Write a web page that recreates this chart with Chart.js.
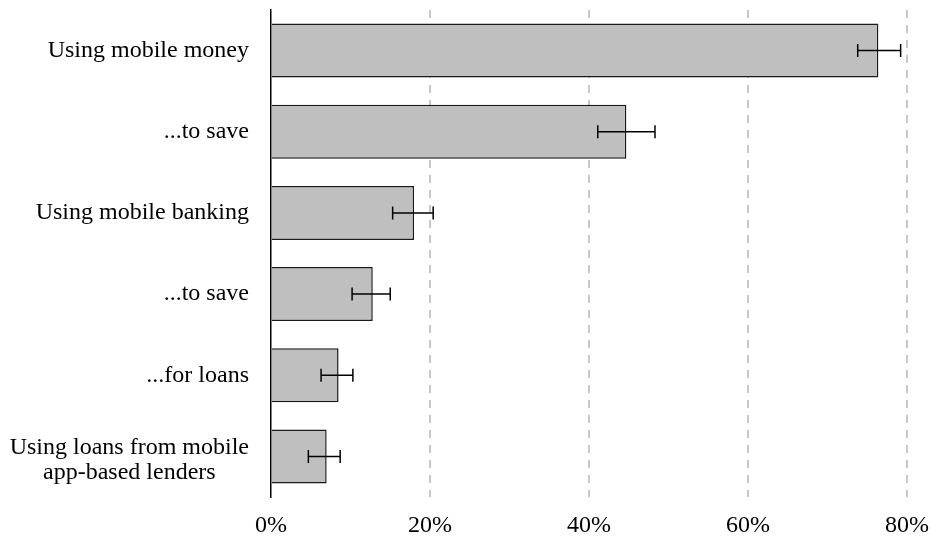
<!DOCTYPE html>
<html>
<head>
<meta charset="utf-8">
<script src="https://cdn.jsdelivr.net/npm/chart.js@4.4.1/dist/chart.umd.min.js"></script>
<style>
  body { margin: 0; background: #fff; }
  canvas { display: block; }
</style>
</head>
<body>
<canvas id="grafica" width="932" height="538"></canvas>
<script>
const categorias = [
    ["Using mobile money"],
    ["...to save"],
    ["Using mobile banking"],
    ["...to save"],
    ["...for loans"],
    ["Using loans from mobile", "app-based lenders"]
];
const valores = [76.4, 44.7, 18.0, 12.8, 8.5, 7.0];
const errorBajo = [73.8, 41.1, 15.3, 10.2, 6.3, 4.7];
const errorAlto = [79.2, 48.3, 20.4, 15.0, 10.3, 8.7];
const ticksX = [0, 20, 40, 60, 80];

const fuente = "Liberation Serif, Times New Roman, serif";

// barras de error dibujadas sobre las barras
const pluginErrores = {
    id: "errores",
    afterDatasetsDraw(chart) {
        const ctx = chart.ctx;
        const escalaX = chart.scales.x;
        const meta = chart.getDatasetMeta(0);
        ctx.save();
        ctx.strokeStyle = "#000";
        ctx.lineWidth = 1.5;
        meta.data.forEach((barra, i) => {
            let y = barra.y;
            let x1 = escalaX.getPixelForValue(errorBajo[i]);
            let x2 = escalaX.getPixelForValue(errorAlto[i]);
            ctx.beginPath();
            ctx.moveTo(x1, y);
            ctx.lineTo(x2, y);
            ctx.moveTo(x1, y - 6.5);
            ctx.lineTo(x1, y + 6.5);
            ctx.moveTo(x2, y - 6.5);
            ctx.lineTo(x2, y + 6.5);
            ctx.stroke();
        });
        ctx.restore();
    }
};

// etiquetas de categorias: alineadas a la derecha, lineas centradas entre si
const pluginEtiquetas = {
    id: "etiquetas",
    afterDraw(chart) {
        const ctx = chart.ctx;
        const escalaY = chart.scales.y;
        const derecha = chart.chartArea.left - 22;
        const altoLinea = 25;
        ctx.save();
        ctx.font = "24px " + fuente;
        ctx.fillStyle = "#000";
        ctx.textBaseline = "middle";
        ctx.textAlign = "center";
        categorias.forEach((lineas, i) => {
            let yc = escalaY.getPixelForValue(i);
            let ancho = Math.max(...lineas.map((l) => ctx.measureText(l).width));
            let xc = derecha - ancho / 2;
            let y0 = yc - (lineas.length - 1) * altoLinea / 2;
            if (lineas.length > 1) {
                y0 += 4;
            }
            lineas.forEach((l, j) => {
                ctx.fillText(l, xc, y0 + j * altoLinea);
            });
        });
        ctx.restore();
    }
};

const contexto = document.getElementById("grafica").getContext("2d");
const grafico = new Chart(contexto, {
    type: "bar",
    data: {
        labels: categorias.map((c) => c.join(" ")),
        datasets: [{
            data: valores,
            backgroundColor: "#bfbfbf",
            borderColor: "#1a1a1a",
            borderWidth: 1.5,
            barPercentage: 0.665,
            categoryPercentage: 1
        }]
    },
    options: {
        indexAxis: "y",
        responsive: false,
        animation: false,
        layout: { padding: { top: 10, right: 25, left: 0, bottom: 0 } },
        plugins: {
            legend: { display: false },
            tooltip: { enabled: false }
        },
        scales: {
            x: {
                min: 0,
                max: 80,
                afterBuildTicks: (escala) => {
                    escala.ticks = ticksX.map((v) => ({ value: v }));
                },
                afterFit: (escala) => {
                    escala.height = 41;
                    escala.paddingLeft = 0;
                    escala.paddingRight = 0;
                },
                grid: {
                    color: (c) => c.tick && c.tick.value === 0 ? "rgba(0,0,0,0)" : "#c8c8c8",
                    lineWidth: 2,
                    drawTicks: false
                },
                border: { display: false, dash: [8, 7] },
                ticks: {
                    color: "#000",
                    font: { family: fuente, size: 24 },
                    padding: 14,
                    maxRotation: 0,
                    callback: (v) => v + "%"
                }
            },
            y: {
                afterFit: (escala) => { escala.width = 271; },
                grid: { display: true, color: "rgba(0,0,0,0)", drawTicks: false },
                border: { display: true, color: "#000", width: 1.5 },
                ticks: { display: false }
            }
        }
    },
    plugins: [pluginErrores, pluginEtiquetas]
});
</script>
</body>
</html>
